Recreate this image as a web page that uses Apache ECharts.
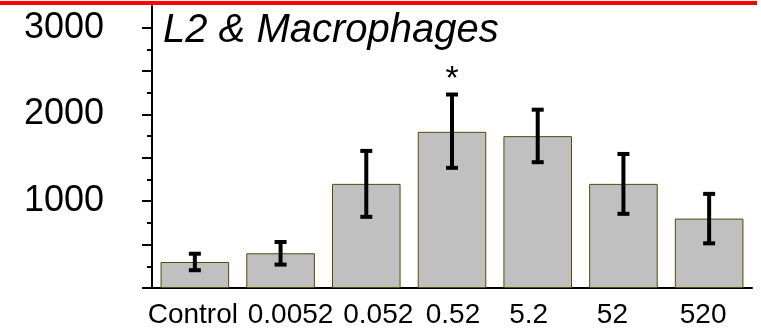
<!DOCTYPE html>
<html>
<head>
<meta charset="utf-8">
<script src="https://cdn.jsdelivr.net/npm/echarts@6/dist/echarts.min.js"></script>
<style>
  html, body { margin: 0; padding: 0; background: #fff; }
  #main { width: 761px; height: 332px; }
</style>
</head>
<body>
<div id="main"></div>
<script>
var categories = ['Control', '0.0052', '0.052', '0.52', '5.2', '52', '520'];
var means = [300, 400, 1200, 1800, 1750, 1200, 800];
var errLow = [205, 270, 820, 1385, 1450, 855, 515];
var errHigh = [395, 530, 1580, 2230, 2055, 1545, 1085];
var marks = ['', '', '', '*', '', '', ''];
var majorTicks = [0, 500, 1000, 1500, 2000, 2500, 3000];
var minorTicks = [250, 750, 1250, 1750, 2250, 2750];
var tickLabels = [1000, 2000, 3000];

// horizontal nudge of each x label away from its bar centre (px)
var labelShift = [-2, 10, 12, 1, -9, -11, -6];

var chart = echarts.init(document.getElementById('main'));

var errData = categories.map(function (c, i) {
    return [i, errLow[i], errHigh[i], marks[i]];
});

var font = 'Liberation Sans, Arial, sans-serif';

var rich = {};
labelShift.forEach(function (d, i) {
    rich['c' + i] = {
        fontSize: 28, fontFamily: font, color: '#000',
        padding: [0, d < 0 ? -2 * d : 0, 0, d > 0 ? 2 * d : 0]
    };
});

option = {
    animation: false,
    grid: { left: 152, right: 9, top: 6, bottom: 44 },
    graphic: [
        // red rule along the top edge
        { type: 'rect', left: 0, top: 1, shape: { width: 757, height: 4 }, style: { fill: '#ff0000' } },
        {
            type: 'text', left: 163, top: 11,
            style: { text: 'L2 & Macrophages', fontSize: 40, fontStyle: 'italic', fontFamily: font, fill: '#000' }
        }
    ],
    xAxis: {
        type: 'category',
        data: categories,
        axisLine: { lineStyle: { color: '#000', width: 2 } },
        axisTick: { show: false },
        axisLabel: {
            color: '#000', fontSize: 28, fontFamily: font, margin: 13, interval: 0,
            formatter: function (v, i) { return '{c' + i + '|' + v + '}'; },
            rich: rich
        }
    },
    yAxis: [{
        type: 'value',
        min: 0,
        max: 3250,
        splitLine: { show: false },
        axisLine: { show: true, lineStyle: { color: '#000', width: 2 } },
        axisTick: { show: true, length: 10, lineStyle: { color: '#000', width: 2 }, customValues: majorTicks },
        axisLabel: {
            color: '#000', fontSize: 36, fontFamily: font, margin: 48, customValues: tickLabels,
            formatter: function (v) { return String(v); }
        }
    }, {
        type: 'value',
        min: 0,
        max: 3250,
        position: 'left',
        splitLine: { show: false },
        axisLine: { show: false },
        axisTick: { show: true, length: 5, lineStyle: { color: '#000', width: 2 }, customValues: minorTicks },
        axisLabel: { show: false }
    }],
    series: [{
        type: 'bar',
        data: means,
        barWidth: '80%',
        itemStyle: { color: '#c0c0c0', borderColor: '#4d4d08', borderWidth: 1 }
    }, {
        type: 'custom',
        data: errData,
        z: 5,
        renderItem: function (params, api) {
            var x = api.value(0);
            var lo = api.coord([x, api.value(1)]);
            var hi = api.coord([x, api.value(2)]);
            var cap = 6;
            var st = { stroke: '#000', lineWidth: 4 };
            var children = [
                { type: 'line', shape: { x1: lo[0], y1: lo[1], x2: hi[0], y2: hi[1] }, style: st },
                { type: 'line', shape: { x1: hi[0] - cap, y1: hi[1], x2: hi[0] + cap, y2: hi[1] }, style: st },
                { type: 'line', shape: { x1: lo[0] - cap, y1: lo[1], x2: lo[0] + cap, y2: lo[1] }, style: st }
            ];
            var m = api.value(3);
            if (m) {
                children.push({
                    type: 'text',
                    style: { text: m, x: hi[0], y: hi[1] - 15, align: 'center', verticalAlign: 'middle', fontSize: 34, fontFamily: font, fill: '#000' }
                });
            }
            return { type: 'group', children: children };
        }
    }]
};

chart.setOption(option);
</script>
</body>
</html>
